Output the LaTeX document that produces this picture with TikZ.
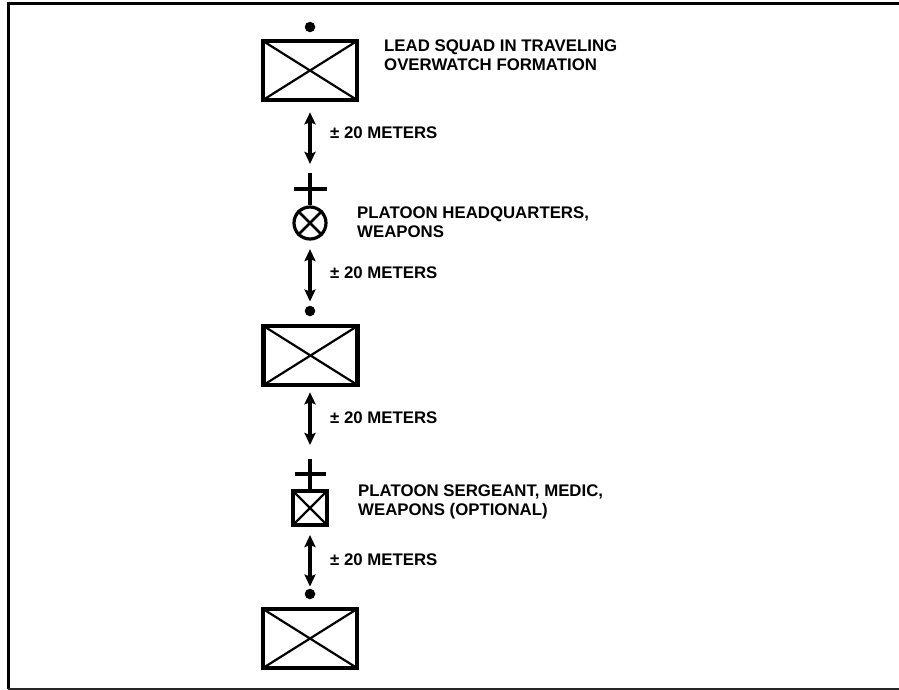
\documentclass[tikz,border=0pt]{standalone}
\usepackage{fontspec}
\setmainfont{Liberation Sans}
\usetikzlibrary{arrows.meta}
\begin{document}
\begin{tikzpicture}[x=1pt,y=-1pt,
  unitbox/.style={draw, line width=4.5pt, minimum width=94pt, minimum height=59pt, inner sep=0pt,
    path picture={\draw[line width=2.2pt] (path picture bounding box.north west) -- (path picture bounding box.south east)
      (path picture bounding box.south west) -- (path picture bounding box.north east);}},
  smallbox/.style={draw, line width=4pt, minimum width=34pt, minimum height=34pt, inner sep=0pt,
    path picture={\draw[line width=2.2pt] (path picture bounding box.north west) -- (path picture bounding box.south east)
      (path picture bounding box.south west) -- (path picture bounding box.north east);}},
  hqcircle/.style={draw, circle, line width=3.2pt, minimum size=32pt, inner sep=0pt},
  dotnode/.style={circle, fill=black, minimum size=10.5pt, inner sep=0pt},
  lbl/.style={font=\fontsize{16.8}{18.5}\selectfont\bfseries, inner sep=0pt, align=left},
  dist/.style={line width=3.3pt, {Stealth[length=12pt,width=11pt,inset=2pt]}-{Stealth[length=12pt,width=11pt,inset=2pt]}},
  stem/.style={line width=3.3pt}
]
\useasboundingbox (0,0) rectangle (899,690);
\clip (0,0) rectangle (899,690);
\fill[white] (0,0) rectangle (899,690);
% frame
\draw[line width=3pt] (905,3.5) -- (8.3,3.5) -- (8.3,688.5);
\draw[line width=2.2pt, black!85] (8.3,688.6) -- (905,688.6);

% lead squad
\node[dotnode] (d1) at (310,27) {};
\node[unitbox] (b1) at (310,70.5) {};
\node[lbl, anchor=north west] (t1) at (384,40) {LEAD SQUAD IN TRAVELING\\OVERWATCH FORMATION};

% platoon HQ
\coordinate (hqtop) at (310,173);
\coordinate (hqbarl) at (294,189);
\coordinate (hqbarr) at (327,189);
\node[hqcircle] (hq) at (310,223) {};
\draw[line width=2.6pt] (hq.north west) -- (hq.south east) (hq.north east) -- (hq.south west);
\draw[stem] (hqtop) -- (hq.north);
\draw[stem] (hqbarl) -- (hqbarr);
\node[lbl, anchor=north west] (t2) at (357,207) {PLATOON HEADQUARTERS,\\WEAPONS};

% second squad
\node[dotnode] (d2) at (310,311) {};
\node[unitbox] (b2) at (310.5,355.5) {};

% platoon sergeant
\coordinate (sgtop) at (310,459);
\coordinate (sgbarl) at (295,474);
\coordinate (sgbarr) at (326,474);
\node[smallbox] (sg) at (310,508) {};
\draw[stem] (sgtop) -- (sg.north);
\draw[stem] (sgbarl) -- (sgbarr);
\node[lbl, anchor=north west] (t3) at (358,485) {PLATOON SERGEANT, MEDIC,\\WEAPONS (OPTIONAL)};

% third squad
\node[dotnode] (d3) at (310,594) {};
\node[unitbox] (b3) at (310,638.5) {};

% distance arrows
\draw[dist, shorten <=10pt, shorten >=9pt] (b1.south) -- (hqtop);
\draw[dist, shorten <=8.5pt, shorten >=4pt] (hq.south) -- (d2.north);
\draw[dist, shorten <=5pt, shorten >=14pt] (b2.south -| d2) -- (sgtop);
\draw[dist, shorten <=8pt, shorten >=2pt] (sg.south) -- (d3.north);

\node[lbl, anchor=west] (m1) at (330,133) {± 20 METERS};
\node[lbl, anchor=west] (m2) at (330,273) {± 20 METERS};
\node[lbl, anchor=west] (m3) at (330,418) {± 20 METERS};
\node[lbl, anchor=west] (m4) at (330,560) {± 20 METERS};
\end{tikzpicture}
\end{document}
